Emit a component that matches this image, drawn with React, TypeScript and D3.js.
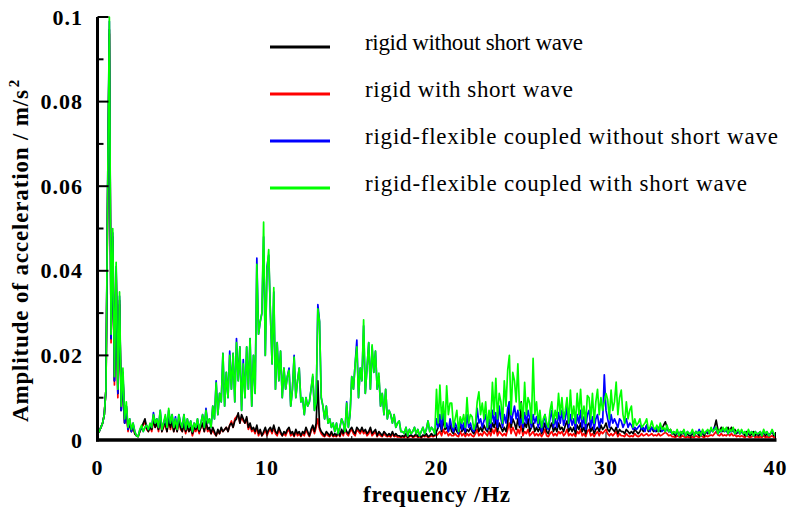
import { useEffect, useRef } from "react";
import * as d3 from "d3";

// amplitudes in 1e-3 m/s^2, one value every 0.1 Hz from 0 to 40 Hz
const rigidNoWave = [
  1.5, 2, 3, 4, 6, 12, 58, 97, 24, 48,
  14, 40, 11, 33, 7, 15, 4, 8, 2.5, 4,
  2, 3.5, 1.5, 1, 1, 2, 3, 4, 5, 3,
  2, 3, 2.5, 5, 3, 4, 2.5, 5, 2, 3.5,
  4, 2, 5, 3, 4.5, 2, 4, 2, 5, 3,
  2, 4, 2, 3.5, 2, 3, 1.5, 3, 2.5, 3.5,
  2, 3, 4, 2, 4.5, 2.5, 3, 1.5, 3, 2,
  1, 2.5, 1.5, 3, 2, 2.5, 3, 2, 3.5, 4,
  3, 4.5, 5, 6.4, 4, 6, 5, 4, 5.5, 3,
  4, 2.5, 3, 2, 3.5, 1.5, 2.5, 1, 2, 3,
  1.5, 2.5, 3, 2, 3.5, 2, 1.5, 3, 2, 1,
  2, 1.5, 2.5, 3, 1.5, 2, 1, 2.5, 1.5, 2,
  1, 2, 1.5, 3, 2, 1, 2.5, 3.5, 2, 4,
  14, 3, 2, 1.5, 1, 2, 1.5, 1, 2, 1,
  1.5, 1, 2, 1, 2.5, 1.5, 3, 2, 1.5, 2.5,
  3, 2, 1.5, 3, 2.5, 2, 3, 2, 2.5, 1.5,
  2, 3, 1.5, 2, 2.5, 1, 2, 1.5, 1, 2,
  1.5, 1, 1.5, 1, 2, 1, 1.5, 1, 1, 0.8,
  1, 0.8, 1.5, 0.7, 1, 1.2, 0.8, 1, 1.5, 0.8,
  1, 0.7, 1.2, 1, 1.5, 0.8, 1, 1.5, 1, 1.2,
  2, 3, 4, 2, 5, 2.5, 3, 2, 3.5, 2,
  1.5, 3, 2, 1.5, 4, 2, 3, 1.5, 2.5, 2,
  3, 2, 1.5, 2.5, 4, 2, 3, 2, 3.5, 2.5,
  2, 3.5, 2, 4, 3, 5, 2, 4, 3, 2,
  3, 2, 4, 9, 3, 5, 4, 2.5, 5, 3,
  9, 2, 4, 3, 5, 2, 3, 4, 2, 3,
  2, 3, 1.5, 2.5, 4, 2, 1.5, 3, 4, 2,
  3, 2, 4, 2.5, 3, 2, 3.5, 4.5, 2, 3,
  2, 3, 1.5, 3.5, 2.5, 4, 2, 3, 1.5, 3.5,
  4, 2, 3, 1.5, 2.5, 3, 2, 3.5, 2.5, 3,
  4, 2.5, 2, 3, 2.5, 2, 3, 1.5, 2.5, 2,
  2, 1.5, 2.5, 2, 1.5, 2, 1.5, 2.5, 2, 1.5,
  2, 3, 2, 2.5, 3.5, 2, 2.5, 3, 2, 2.5,
  2, 3, 2, 2.5, 3.5, 4.3, 3, 2, 2.5, 1.5,
  1.5, 1, 2, 1.5, 1, 2, 1.5, 1, 1.5, 1,
  1, 1.5, 1, 2, 1.5, 1, 2, 1.5, 1, 2,
  1.5, 2, 2.5, 2, 3, 4.7, 2.5, 2, 3, 2,
  2.5, 2, 3, 2, 3, 2, 2.5, 1.5, 2, 1.5,
  2, 1.5, 1, 2, 1.5, 1, 1.5, 2, 1, 1.5,
  1, 1.5, 1, 2, 1, 1.5, 1, 1.5, 2, 1,
  1,
];

const rigidWave = [
  1.5, 2, 3, 4, 6, 12, 57, 96, 23, 47,
  13, 39, 10, 32, 7, 14, 4, 7, 2, 4,
  2, 3, 1.5, 1, 0.8, 2, 3, 3.5, 4.5, 2.5,
  2, 3, 2, 4.5, 3, 4, 2, 5, 2, 3,
  3.5, 2, 5, 2.5, 4, 2, 3.5, 2, 4.5, 2.5,
  2, 3.5, 1.5, 3, 2, 3, 1, 2.5, 2, 3,
  1.5, 3, 3.5, 2, 4, 2, 2.5, 1.5, 2.5, 1.5,
  1, 2, 1.5, 2.5, 2, 2.5, 3, 2, 3.5, 4.5,
  3, 5, 5.5, 6, 4, 5.5, 4.5, 4, 5, 2.5,
  3.5, 2, 2.5, 1.5, 3, 1, 2, 1, 1.5, 2.5,
  1, 2, 2.5, 1.5, 3, 1.5, 1, 2.5, 1.5, 1,
  1.5, 1, 2, 2.5, 1, 1.5, 0.8, 2, 1, 1.5,
  0.8, 1.5, 1, 2.5, 1.5, 0.8, 2, 3, 1.5, 3,
  5, 2.5, 1.5, 1, 0.8, 1.5, 1, 0.8, 1.5, 0.8,
  1, 0.8, 1.5, 0.8, 2, 1, 2.5, 1.5, 1, 2,
  2.5, 1.5, 1, 2.5, 2, 1.5, 2.5, 1.5, 2, 1,
  1.5, 2.5, 1, 1.5, 2, 0.8, 1.5, 1, 0.8, 1.5,
  1, 0.8, 1, 0.7, 1.5, 0.8, 1, 0.7, 0.8, 0.6,
  0.8, 0.6, 1, 0.5, 0.8, 1, 0.6, 0.8, 1, 0.6,
  0.8, 0.5, 1, 0.8, 1, 0.6, 0.8, 1, 0.8, 1,
  1, 1.5, 2, 1, 2.5, 1.5, 2, 1, 1.5, 1,
  1, 1.5, 1, 0.8, 2, 1, 1.5, 0.8, 1.5, 1,
  1.5, 1, 0.8, 1.5, 2.5, 1, 1.5, 1, 2, 1.5,
  1, 2, 1, 2.5, 1.5, 3, 1, 2, 1.5, 1,
  1.5, 1, 2.5, 4, 1.5, 3, 2, 1, 2.5, 1.5,
  3.5, 1, 2, 1.5, 2.5, 1, 1.5, 2, 1, 1.5,
  1, 1.5, 0.8, 1.5, 2.5, 1, 0.8, 1.5, 2, 1,
  1.5, 1, 2, 1.5, 2, 1, 1.5, 2.5, 1, 1.5,
  1, 1.5, 0.8, 2, 1.5, 2.5, 1, 1.5, 0.8, 2,
  2.5, 1, 1.5, 0.8, 1.5, 2, 1, 2, 1.5, 2,
  2.5, 1.5, 1, 1.5, 1, 1.5, 2, 0.8, 1.5, 1,
  1, 0.8, 1.5, 1, 0.8, 1, 0.8, 1.5, 1, 0.8,
  1, 1.5, 1, 1.2, 1.5, 1, 1.2, 1.5, 1, 1.2,
  1, 1.5, 1, 1.2, 1.5, 1.8, 1.5, 1, 1.2, 0.8,
  0.8, 0.6, 1, 0.8, 0.6, 1, 0.8, 0.6, 0.8, 0.6,
  0.6, 0.8, 0.6, 1, 0.8, 0.6, 1, 0.8, 0.6, 1,
  0.8, 1, 1.2, 1, 1.5, 2, 1.2, 1, 1.5, 1,
  1.2, 1, 1.5, 1, 1.5, 1, 1.2, 0.8, 1, 0.8,
  1, 0.8, 0.6, 1, 0.8, 0.6, 0.8, 1, 0.6, 0.8,
  0.6, 0.8, 0.6, 1, 0.6, 0.8, 0.6, 0.8, 1, 0.6,
  0.6,
];

const flexNoWave = [
  1.5, 2, 3, 4, 6, 12, 60, 99, 24, 49,
  14, 41, 11, 34, 7, 16, 4, 8, 2.5, 5,
  2, 4, 2, 1, 0.8, 2.5, 3, 2, 3, 3.5,
  2.5, 3.5, 3, 6.5, 4, 5, 3, 7, 2.5, 4,
  5.5, 3, 7, 4, 6, 3, 5.5, 2.5, 6, 4,
  3, 6, 2.5, 5, 3, 4.5, 2, 4, 3, 5,
  2.5, 4, 6, 3, 7.5, 4, 5, 3, 8, 5,
  14, 6, 11, 9, 20.5, 8, 16, 10, 21, 12,
  20.5, 9, 24, 14, 22, 7, 19, 10, 22, 12,
  24, 8, 20, 11, 43, 25, 28, 30, 48, 20,
  41, 43.7, 30, 18, 35, 12, 23, 14, 21, 10,
  17, 12, 15, 17, 8, 12, 20, 10, 14, 17,
  9, 10, 6, 10, 8, 9, 12, 15, 7, 9,
  32, 28, 10, 8, 5, 8, 4, 5, 3, 4,
  2, 4, 1.5, 3, 5, 4, 2, 9, 3, 6,
  15, 12, 18, 23.6, 10, 17, 14, 27, 11, 17,
  23, 12, 22, 16, 21, 12, 15, 8, 11, 6,
  12, 5, 7, 6, 4, 6, 3, 4, 4.5, 2,
  2, 1.5, 3, 1, 2.5, 1.5, 2, 3, 1.5, 2.5,
  1, 2, 3, 1.5, 2.5, 4.5, 2, 3, 2.5, 1.5,
  5, 3, 6, 2.5, 7, 3, 4, 2, 5, 3,
  2, 4, 3, 1.5, 5, 2.5, 4, 2, 6, 3,
  4, 2.5, 2, 3, 7.5, 4, 5, 3, 4.5, 6,
  2.5, 5, 3, 7, 4, 6.5, 3, 8, 5, 3,
  6, 4, 7.5, 9, 4, 6, 8, 5, 7, 3.5,
  5, 3, 6.5, 4, 7, 5, 3, 6, 4, 5.5,
  3, 5, 2, 4, 6, 3, 2.5, 5, 7, 3,
  5, 3, 6.5, 4, 7, 3.5, 5, 8, 3, 6,
  3.5, 5, 2.5, 6, 4, 7, 3, 5.5, 2.5, 6,
  7, 3, 5.5, 2.5, 5, 6, 3, 5, 4, 15.4,
  7, 5, 3, 6, 4, 5, 4, 3, 5, 4.5,
  3, 4, 5, 3, 4, 3.5, 2.5, 3, 2.5, 3,
  3.5, 2.5, 3, 2, 3.5, 2.5, 2, 3, 2.5, 2,
  3, 2, 3.5, 2, 2.5, 2, 3, 2, 2, 1.5,
  2, 1.5, 2, 1, 2, 1.5, 2, 1, 2, 1.5,
  1.5, 2, 1, 2, 1.5, 2.5, 1, 2, 1.5, 2,
  2, 1.5, 2.5, 2, 3, 2.5, 1.5, 2, 2, 2.5,
  2, 2.5, 1.5, 2, 2, 2.5, 1.5, 2, 2, 1.5,
  2, 1.5, 2, 1, 2, 1.5, 2, 1, 2, 1.5,
  1.5, 2, 1, 2, 1.5, 2, 1, 1.5, 2, 1.5,
  1,
];

const flexWave = [
  1.5, 2, 3, 4, 6, 12, 60, 100, 25, 50,
  15, 42, 12, 35, 8, 17, 5, 9, 3, 5,
  2.5, 4, 2, 1, 0.8, 2.5, 3.5, 2, 3, 3.5,
  2.5, 4, 3, 6, 4, 5, 3, 7, 2.5, 4,
  6, 3, 7.5, 4, 6, 3, 5, 2.5, 6, 4,
  3, 6, 2.5, 5, 3, 4.5, 2, 4, 3, 5,
  2.5, 4, 6, 3, 7, 4, 5, 3, 8, 5,
  13.5, 6, 11, 9, 20.5, 8, 16, 10, 20, 12,
  20.5, 9, 23, 14, 22, 7, 18, 10, 22, 12,
  24, 8, 20, 11, 41.5, 25, 28, 30, 51.5, 20,
  40, 45, 30, 18, 36, 12, 23, 14, 21, 10,
  17, 12, 15, 16.5, 8, 12, 19.6, 10, 14, 17,
  9, 10, 6, 10, 8, 9, 12, 15.5, 7, 9,
  31, 28, 10, 8, 5, 8, 4, 5, 3, 4,
  2, 4, 1.5, 3, 5, 4, 2, 8.7, 3, 6,
  15, 12, 18, 22, 10, 17, 14, 28.4, 11, 17,
  23, 12, 22.5, 16, 21, 12, 15.8, 8, 11, 6,
  12, 5, 7, 6, 4, 6, 3, 4, 4.5, 2,
  2, 1.5, 3, 1, 2.5, 1.5, 2, 3, 1.5, 2.5,
  1, 2, 3, 1.5, 2.5, 4.5, 2, 3, 2.5, 1.5,
  12, 4, 13, 5, 9, 3, 12.8, 6, 8.7, 8.7,
  3, 5, 7, 2, 5.5, 4, 6, 3, 10, 4,
  6, 5.5, 2.5, 4, 9, 11.4, 6, 8.7, 5, 9,
  3, 7, 4, 13.6, 6, 14.6, 5, 11, 9, 4,
  14, 8, 16.5, 20, 6, 16, 14, 9, 18, 7,
  8.7, 4, 13.6, 6, 10, 8.7, 4, 19.3, 6, 9,
  4, 7, 3, 5, 6, 4, 3, 7, 9, 4,
  7, 5, 11, 6, 10, 5, 7, 10, 4, 11.8,
  5, 8, 4, 11, 6, 12, 5, 8, 4, 10.5,
  10, 5, 11, 4, 9, 12, 6, 10, 7, 9,
  11, 9.5, 5, 11.8, 7, 9, 13.7, 6, 10, 11.8,
  6, 4, 9, 5, 7, 8, 3, 5, 3.5, 4,
  5, 3, 3.5, 4, 5, 2.5, 3, 4.5, 3, 2.5,
  3.5, 2, 4, 2.5, 3, 2, 3.5, 2, 2.5, 1.5,
  2, 1.5, 2.5, 1, 2, 1.5, 2.5, 1, 2, 1.5,
  1.5, 2.5, 1, 2, 1.5, 2, 1, 2.5, 1.5, 2,
  2.5, 1.5, 3, 2, 2.5, 3, 1.5, 2.5, 2, 3,
  2, 3, 1.5, 2.5, 2, 3, 1.5, 2, 2.5, 1.5,
  2.5, 1.5, 2, 1, 2.5, 1.5, 2, 1, 2, 1.5,
  1.5, 2, 1, 2.5, 1.5, 2, 1, 1.5, 2.5, 1.5,
  1,
];

const seriesNames = [
  "rigid without short wave",
  "rigid with short wave",
  "rigid-flexible coupled without short wave",
  "rigid-flexible coupled with short wave",
];
const seriesColors = ["#000000", "#ff0000", "#0000ff", "#00ff00"];
const xTicks = [0, 10, 20, 30, 40];
const yTicks = [0, 0.02, 0.04, 0.06, 0.08, 0.1];
const yMinorTicks = [0.01, 0.03, 0.05, 0.07, 0.09];
const xMinorTicks = [5, 15, 25, 35];

const W = 788;
const H = 515;

export default function App() {
  const svgRef = useRef<SVGSVGElement>(null);

  useEffect(() => {
    const svg = d3.select(svgRef.current);
    svg.selectAll("*").remove();

    const x = d3.scaleLinear().domain([0, 40]).range([97.5, 775.5]);
    const y = d3.scaleLinear().domain([0, 0.1]).range([440, 17]);

    const all = [rigidNoWave, rigidWave, flexNoWave, flexWave];
    const drawOrder = [1, 0, 2, 3];

    const line = d3.line<number>()
      .x((d, i) => x(i * 0.1))
      .y(d => y(d / 1000));

    const g = svg.append("g");
    drawOrder.forEach(k => {
      g.append("path")
        .attr("d", line(all[k]))
        .attr("fill", "none")
        .attr("stroke", seriesColors[k])
        .attr("stroke-width", 1.7)
        .attr("stroke-linejoin", "round");
    });

    // axes
    const ax = svg.append("g").attr("stroke", "#000");
    ax.append("line")
      .attr("x1", x(0)).attr("x2", x(0))
      .attr("y1", y(0.1)).attr("y2", y(0) + 1.5)
      .attr("stroke-width", 3);
    ax.append("line")
      .attr("x1", x(0) - 1.5).attr("x2", x(40) + 1)
      .attr("y1", y(0)).attr("y2", y(0))
      .attr("stroke-width", 3.5);

    ax.selectAll(".ymaj").data(yTicks).join("line")
      .attr("x1", x(0)).attr("x2", x(0) + 11)
      .attr("y1", d => y(d)).attr("y2", d => y(d))
      .attr("stroke-width", 2);
    ax.selectAll(".ymin").data(yMinorTicks).join("line")
      .attr("x1", x(0)).attr("x2", x(0) + 6)
      .attr("y1", d => y(d)).attr("y2", d => y(d))
      .attr("stroke-width", 2);
    ax.selectAll(".xmaj").data(xTicks).join("line")
      .attr("x1", d => x(d)).attr("x2", d => x(d))
      .attr("y1", y(0)).attr("y2", y(0) - 8)
      .attr("stroke-width", 1);
    ax.selectAll(".xmin").data(xMinorTicks).join("line")
      .attr("x1", d => x(d)).attr("x2", d => x(d))
      .attr("y1", y(0)).attr("y2", y(0) - 4)
      .attr("stroke-width", 1);

    const font = "'Liberation Serif', 'Times New Roman', serif";

    svg.selectAll(".ylab").data(yTicks).join("text")
      .attr("x", 83)
      .attr("y", d => y(d) + 7.5)
      .attr("text-anchor", "end")
      .attr("font-family", font)
      .attr("font-weight", "bold")
      .attr("font-size", 22)
      .attr("letter-spacing", 1)
      .text(d => (d === 0 ? "0" : d3.format(".2~f")(d)));

    svg.selectAll(".xlab").data(xTicks).join("text")
      .attr("x", d => x(d))
      .attr("y", 475)
      .attr("text-anchor", "middle")
      .attr("font-family", font)
      .attr("font-weight", "bold")
      .attr("font-size", 22)
      .attr("letter-spacing", 1)
      .text(d => d);

    svg.append("text")
      .attr("x", 363)
      .attr("y", 502)
      .attr("font-family", font)
      .attr("font-weight", "bold")
      .attr("font-size", 23)
      .attr("textLength", 147)
      .attr("lengthAdjust", "spacing")
      .text("frequency /Hz");

    const yt = svg.append("text")
      .attr("transform", "translate(28,422) rotate(-90)")
      .attr("font-family", font)
      .attr("font-weight", "bold")
      .attr("font-size", 23);
    yt.append("tspan")
      .attr("textLength", 332)
      .attr("lengthAdjust", "spacing")
      .text("Amplitude of acceleration /  m/s");
    yt.append("tspan").attr("dx", 2).attr("dy", -9).attr("font-size", 15).text("2");

    // legend
    const legendY = [47, 94, 141, 188];
    const legendWidths = [218, 208, 413, 382];
    seriesNames.forEach((name, i) => {
      svg.append("line")
        .attr("x1", 270).attr("x2", 330)
        .attr("y1", legendY[i]).attr("y2", legendY[i])
        .attr("stroke", seriesColors[i])
        .attr("stroke-width", 3);
      svg.append("text")
        .attr("x", 365)
        .attr("y", legendY[i] + 3)
        .attr("font-family", font)
        .attr("font-size", 23)
        .attr("textLength", legendWidths[i])
        .attr("lengthAdjust", "spacing")
        .text(name);
    });
  }, []);

  return (
    <svg
      ref={svgRef}
      width={W}
      height={H}
      style={{ position: "absolute", left: 0, top: 0, background: "#fff" }}
    />
  );
}
